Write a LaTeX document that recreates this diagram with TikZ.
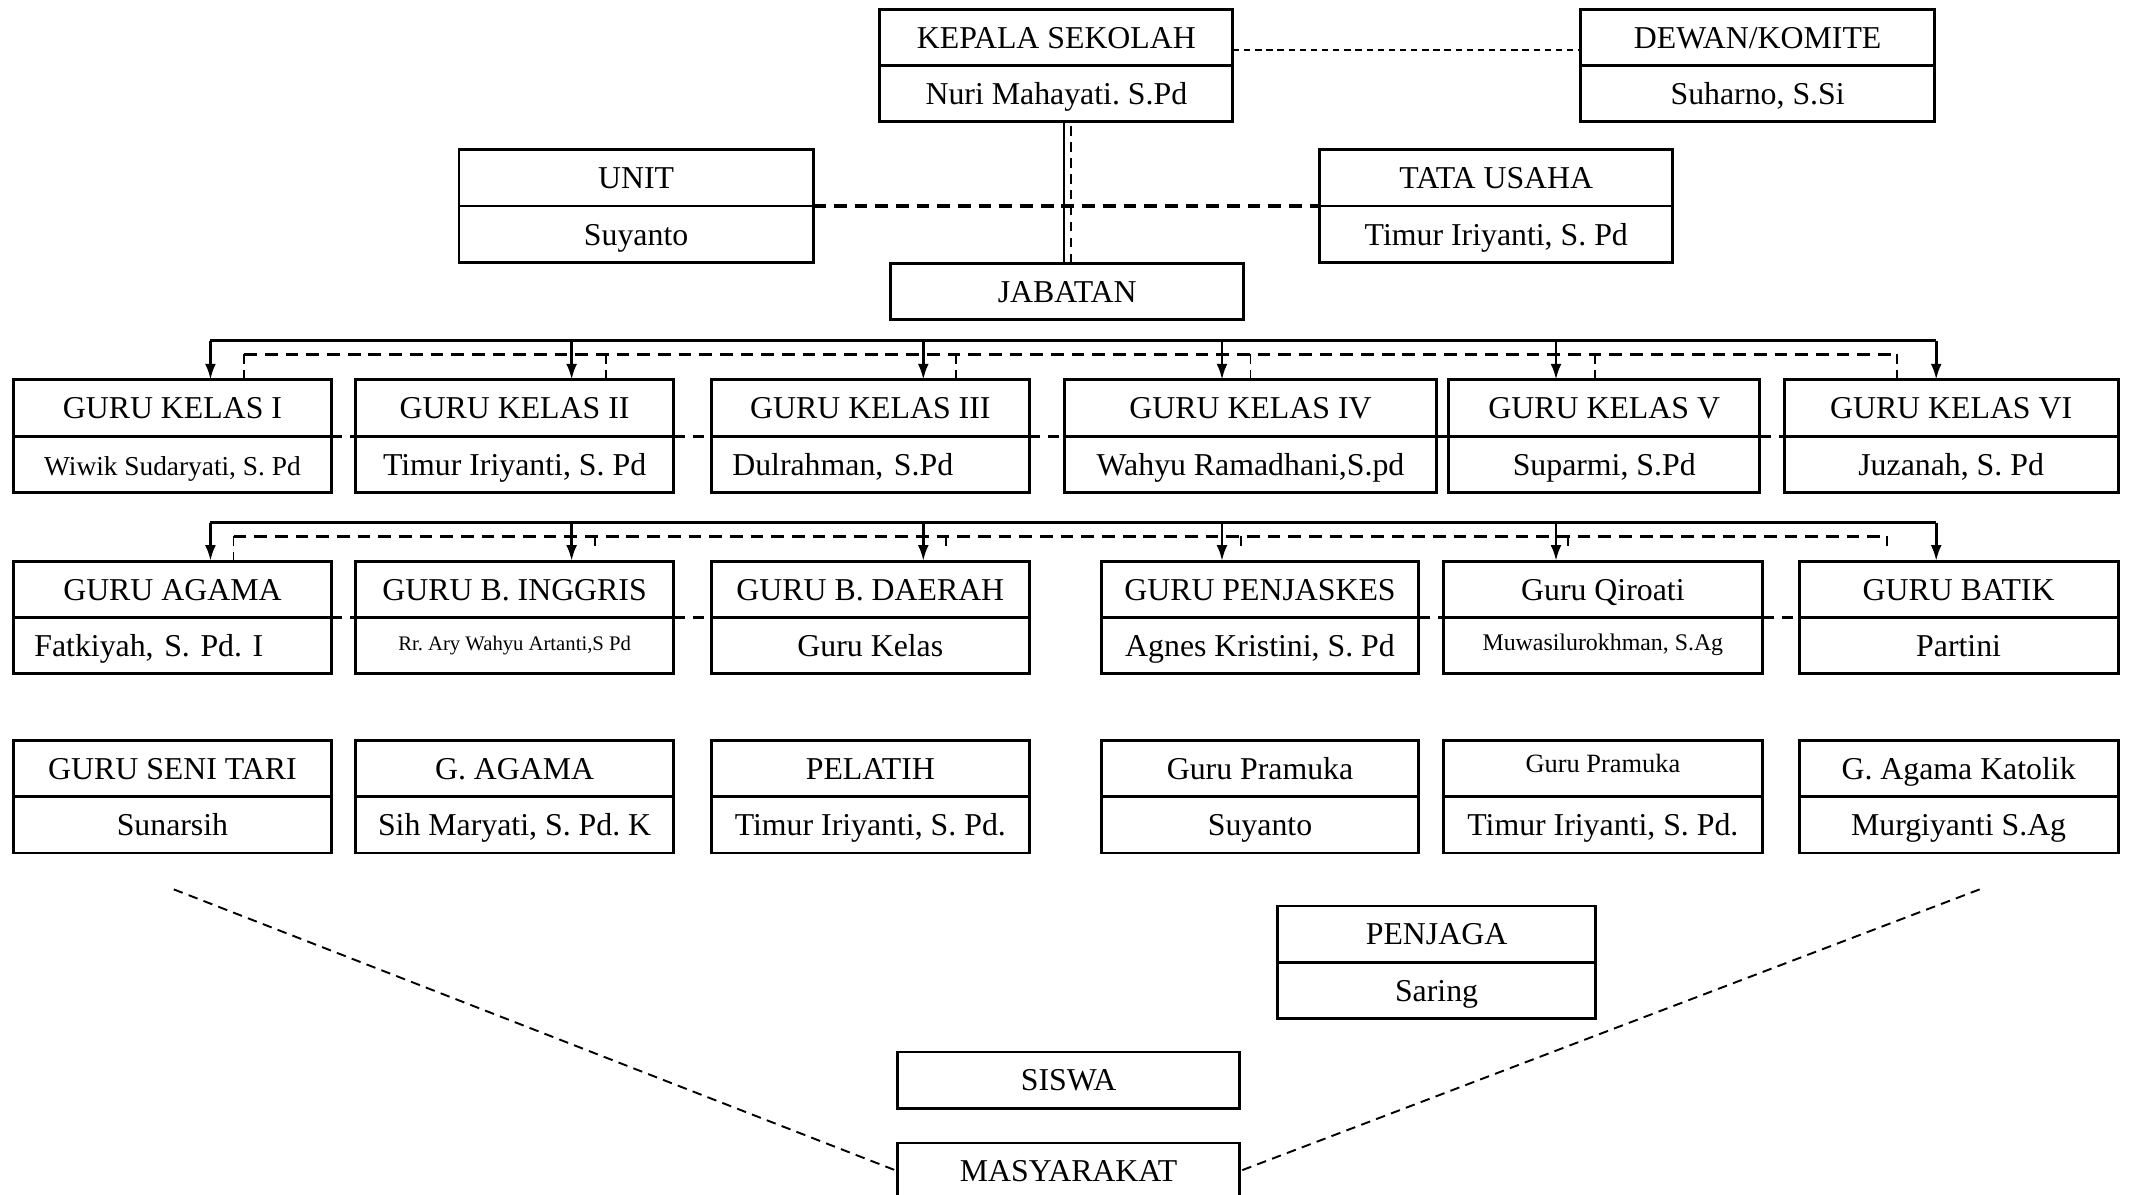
\documentclass[tikz,border=0pt]{standalone}
\usepackage{fontspec}
\setmainfont{Liberation Serif}
\usetikzlibrary{positioning,arrows.meta}
\frenchspacing

\tikzset{
  box/.style={draw, line width=0.9pt, fill=white, inner sep=2pt, outer sep=0pt,
    minimum height=0.6225cm, minimum width=#1*0.015cm, font=\fontsize{10}{12}\selectfont,
    text height=0.9em, text depth=0.22em},
  box/.default=234,
  lbody/.style={text width=3.05cm, align=left, inner xsep=0.23cm},
  bus/.style={line width=0.9pt},
  dashbus/.style={line width=1pt, dash pattern=on 4pt off 2.5pt},
  tick/.style={line width=0.6pt, dash pattern=on 3pt off 2pt},
  linkdash/.style={line width=0.9pt, dash pattern=on 3.5pt off 2.5pt},
  dotlink/.style={line width=0.7pt, dash pattern=on 2pt off 1.5pt},
  tip/.style={-{Latex[length=5pt,width=3.4pt]}}
}

\begin{document}
\begin{tikzpicture}[x=0.015cm, y=-0.015cm]
    \useasboundingbox (0,0) rectangle (1568,880);

    % Pimpinan
    \node[box=260] (ks) at (778,27.5) {KEPALA SEKOLAH};
    \node[box=260, below=0pt of ks] (ksn) {Nuri Mahayati. S.Pd};
    \node[box=261] (dk) at (1294.5,27.5) {DEWAN/KOMITE};
    \node[box=261, below=0pt of dk] (dkn) {Suharno, S.Si};
    \node[box=261] (unit) at (468.5,131) {UNIT};
    \node[box=261, below=0pt of unit] (unitn) {Suyanto};
    \node[box=260] (tu) at (1102,131) {TATA USAHA};
    \node[box=260, below=0pt of tu] (tun) {Timur Iriyanti, S. Pd};
    \node[box=260] (jab) at (786,214.5) {JABATAN};

    \draw[dotlink] ([yshift=-4pt]ks.east) -- ([yshift=-4pt]dk.west);
    \draw[dashbus] (unit.south east) -- (tu.south west);
    \draw[line width=0.6pt] ([xshift=-1pt]jab.north) -- ([xshift=-1pt]jab.north |- ksn.south);
    \draw[tick] ([xshift=1.3pt]jab.north) -- ([xshift=1.3pt]jab.north |- ksn.south);

    % Guru kelas
    \node[box] (gk1) at (127,300.5) {GURU KELAS I};
    \node[box, below=0pt of gk1] (gk1n) {\fontsize{8.6}{10}\selectfont Wiwik Sudaryati, S. Pd};
    \node[box] (gk2) at (379,300.5) {GURU KELAS II};
    \node[box, below=0pt of gk2] (gk2n) {Timur Iriyanti, S. Pd};
    \node[box] (gk3) at (641,300.5) {GURU KELAS III};
    \node[box, lbody, below=0pt of gk3] (gk3n) {Dulrahman, S.Pd};
    \node[box=274] (gk4) at (921,300.5) {GURU KELAS IV};
    \node[box=274, below=0pt of gk4] (gk4n) {Wahyu Ramadhani,S.pd};
    \node[box=229] (gk5) at (1181.5,300.5) {GURU KELAS V};
    \node[box=229, below=0pt of gk5] (gk5n) {Suparmi, S.Pd};
    \node[box=246] (gk6) at (1437,300.5) {GURU KELAS VI};
    \node[box=246, below=0pt of gk6] (gk6n) {Juzanah, S. Pd};

    \foreach \a/\b in {gk1/gk2, gk2/gk3, gk3/gk4, gk4/gk5, gk5/gk6}
        \draw[linkdash] (\a.south east) -- (\b.south west);

    \foreach \x/\n in {155/gk1, 421/gk2, 680/gk3, 900/gk4, 1146/gk5, 1426/gk6}
        \coordinate (t\n) at (\x,251);
    \foreach \x/\n in {180/gk1, 446/gk2, 704/gk3, 921/gk4, 1175/gk5, 1397/gk6}
        \coordinate (d\n) at (\x,261);
    \draw[dashbus] (dgk1) -- (dgk6);
    \foreach \n in {gk1, gk2, gk3, gk4, gk5, gk6}
        \draw[tick] (d\n) -- (d\n |- \n.north);
    \draw[bus] (tgk1) -- (tgk6);
    \foreach \n in {gk1, gk2, gk3, gk4, gk5, gk6}
        \draw[bus, tip] (t\n) -- (t\n |- \n.north);

    % Guru mapel
    \node[box] (ga) at (127,434) {GURU AGAMA};
    \node[box, lbody, below=0pt of ga] (gan) {Fatkiyah, S. Pd. I};
    \node[box] (gbi) at (379,434) {GURU B. INGGRIS};
    \node[box, below=0pt of gbi] (gbin) {\raisebox{2pt}{\fontsize{6.5}{8}\selectfont Rr. Ary Wahyu Artanti,S Pd}};
    \node[box] (gbd) at (641,434) {GURU B. DAERAH};
    \node[box, below=0pt of gbd] (gbdn) {Guru Kelas};
    \node[box] (gpj) at (928,434) {GURU PENJASKES};
    \node[box, below=0pt of gpj] (gpjn) {Agnes Kristini, S. Pd};
    \node[box=235] (gq) at (1180.5,434) {Guru Qiroati};
    \node[box=235, below=0pt of gq] (gqn) {\raisebox{2pt}{\fontsize{7.5}{9}\selectfont Muwasilurokhman, S.Ag}};
    \node[box=235] (gbt) at (1442.5,434) {GURU BATIK};
    \node[box=235, below=0pt of gbt] (gbtn) {Partini};

    \foreach \a/\b in {ga/gbi, gbi/gbd, gpj/gq, gq/gbt}
        \draw[linkdash] (\a.south east) -- (\b.south west);

    \foreach \x/\n in {155/ga, 421/gbi, 680/gbd, 900/gpj, 1146/gq, 1426/gbt}
        \coordinate (t\n) at (\x,385);
    \foreach \x/\n in {172/ga, 438/gbi, 697/gbd, 914/gpj, 1155/gq, 1390/gbt}
        \coordinate (d\n) at (\x,395);
    \draw[dashbus] (dga) -- (dgbt);
    \draw[tick] (dga) -- (dga |- ga.north);
    \foreach \n in {gbi, gbd, gpj, gq, gbt}
        \draw[tick] (d\n) -- ++(0,11);
    \draw[bus] (tga) -- (tgbt);
    \foreach \n in {ga, gbi, gbd, gpj, gq, gbt}
        \draw[bus, tip] (t\n) -- (t\n |- \n.north);

    % Guru lain
    \node[box] (gst) at (127,566) {GURU SENI TARI};
    \node[box, below=0pt of gst] (gstn) {Sunarsih};
    \node[box] (gag) at (379,566) {G. AGAMA};
    \node[box, below=0pt of gag] (gagn) {Sih Maryati, S. Pd. K};
    \node[box] (pl) at (641,566) {PELATIH};
    \node[box, below=0pt of pl] (pln) {Timur Iriyanti, S. Pd.};
    \node[box] (gp1) at (928,566) {Guru Pramuka};
    \node[box, below=0pt of gp1] (gp1n) {Suyanto};
    \node[box=235] (gp2) at (1180.5,566) {\raisebox{2pt}{\fontsize{8.3}{10}\selectfont Guru Pramuka}};
    \node[box=235, below=0pt of gp2] (gp2n) {Timur Iriyanti, S. Pd.};
    \node[box=235] (gak) at (1442.5,566) {G. Agama Katolik};
    \node[box=235, below=0pt of gak] (gakn) {Murgiyanti S.Ag};

    % Penjaga, siswa, masyarakat
    \node[box] (pj) at (1058,688) {PENJAGA};
    \node[box, below=0pt of pj] (pjn) {Saring};
    \node[box=252] (sw) at (787,795.5) {SISWA};
    \node[box=252] (ms) at (787,862.5) {MASYARAKAT};

    \coordinate (vl) at (128,655);
    \coordinate (vr) at (1458,655);
    \draw[line width=0.6pt, dash pattern=on 3pt off 2pt] (vl) -- (ms.west);
    \draw[line width=0.6pt, dash pattern=on 3pt off 2pt] (vr) -- (ms.east);
\end{tikzpicture}
\end{document}
